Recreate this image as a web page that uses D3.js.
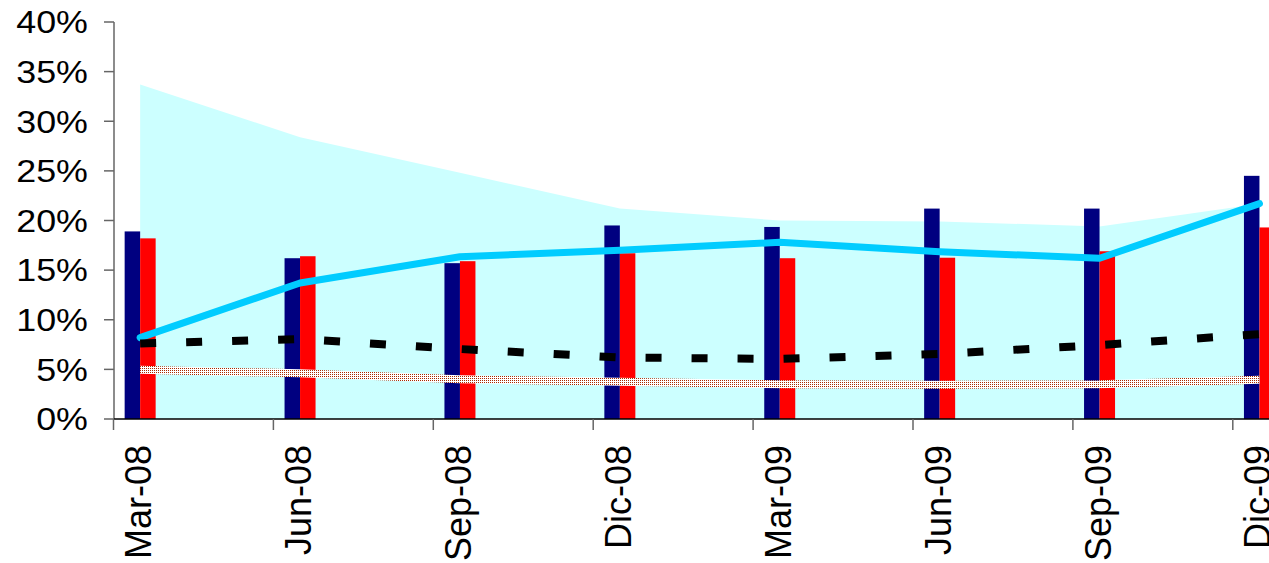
<!DOCTYPE html>
<html><head><meta charset="utf-8">
<script src="https://cdn.jsdelivr.net/npm/d3@7"></script>
<style>body{margin:0;background:#fff}svg{display:block}</style>
</head><body><svg id="c" width="1269" height="563"></svg>
<script>
const categories = ["Mar-08","Jun-08","Sep-08","Dic-08","Mar-09","Jun-09","Sep-09","Dic-09"];
const areaValues = [33.7,28.4,24.8,21.2,20.0,19.9,19.4,21.7];
const navyBars   = [18.9,16.2,15.7,19.5,19.35,21.2,21.2,24.5];
const redBars    = [18.2,16.4,15.9,16.7,16.2,16.25,16.9,19.3];
const cyanLine   = [8.2,13.7,16.35,17.0,17.8,16.85,16.2,21.7];
const dashedLine = [7.6,8.05,7.05,6.2,6.05,6.55,7.45,8.55];
const dottedLine = [4.95,4.6,4.0,3.75,3.5,3.45,3.5,3.95];
const yTicks = [0,5,10,15,20,25,30,35,40];

const svg = d3.select("#c");
const W = 1269, H = 563;
svg.append("rect").attr("width",W).attr("height",H).attr("fill","#fff");

const monthW = 53.3;
const x = d3.scaleLinear().domain([0,24]).range([113.5, 113.5 + 24*monthW]);
const y = d3.scaleLinear().domain([0,40]).range([419,22]);
const pos = i => x(i*3 + 0.5);

const defs = svg.append("defs");
const pat = defs.append("pattern").attr("id","dots").attr("width",2).attr("height",2).attr("patternUnits","userSpaceOnUse");
pat.append("rect").attr("width",2).attr("height",2).attr("fill","#fff");
pat.append("rect").attr("x",0).attr("y",0).attr("width",1).attr("height",1).attr("fill","#a82a00");

// area
svg.append("path")
  .datum(areaValues)
  .attr("fill","#ccffff")
  .attr("d", d3.area().x((d,i)=>pos(i)).y0(y(0)).y1(d=>y(d)));

// bars
const bw = 15.5;
svg.append("g").selectAll("rect").data(navyBars).join("rect")
  .attr("x",(d,i)=>pos(i)-bw).attr("width",bw)
  .attr("y",d=>y(d)).attr("height",d=>y(0)-y(d)).attr("fill","#000080");
svg.append("g").selectAll("rect").data(redBars).join("rect")
  .attr("x",(d,i)=>pos(i)).attr("width",bw)
  .attr("y",d=>y(d)).attr("height",d=>y(0)-y(d)).attr("fill","#ff0000");

const line = d3.line().x((d,i)=>pos(i)).y(d=>y(d));

svg.append("path").datum(cyanLine).attr("d",line)
  .attr("fill","none").attr("stroke","#00ccff").attr("stroke-width",7)
  .attr("stroke-linecap","round").attr("stroke-linejoin","round");

svg.append("path").datum(dashedLine).attr("d",line)
  .attr("fill","none").attr("stroke","#000").attr("stroke-width",8)
  .attr("stroke-dasharray","16,30");

svg.append("path").datum(dottedLine).attr("d",line)
  .attr("fill","none").attr("stroke","url(#dots)").attr("stroke-width",8);

// y axis
const ya = svg.append("g");
ya.append("line").attr("x1",114).attr("x2",114).attr("y1",y(40)).attr("y2",y(0))
  .attr("stroke","#666").attr("stroke-width",1.5);
ya.selectAll("line.t").data(yTicks).join("line").attr("class","t")
  .attr("x1",104).attr("x2",114).attr("y1",d=>y(d)).attr("y2",d=>y(d))
  .attr("stroke","#666").attr("stroke-width",1.5);
ya.selectAll("text").data(yTicks).join("text")
  .attr("transform",d=>`translate(88,${y(d)}) scale(1.12,1)`)
  .attr("text-anchor","end").attr("dominant-baseline","central")
  .attr("font-family","'Liberation Sans', Arial, sans-serif").attr("font-size",32)
  .attr("fill","#000").text(d=>d+"%");

// x axis
const xa = svg.append("g");
xa.append("line").attr("x1",114).attr("x2",W).attr("y1",y(0)).attr("y2",y(0))
  .attr("stroke","#000").attr("stroke-width",1.5);
xa.selectAll("line.t").data(categories).join("line").attr("class","t")
  .attr("x1",(d,i)=>x(i*3)).attr("x2",(d,i)=>x(i*3)).attr("y1",y(0)).attr("y2",y(0)+11)
  .attr("stroke","#666").attr("stroke-width",1.5);
xa.selectAll("text").data(categories).join("text")
  .attr("transform",(d,i)=>`translate(${pos(i)+11},445) rotate(-90)`)
  .attr("text-anchor","end")
  .attr("font-family","'Liberation Sans', Arial, sans-serif").attr("font-size",36)
  .attr("fill","#000").text(d=>d);
</script>
</body></html>
